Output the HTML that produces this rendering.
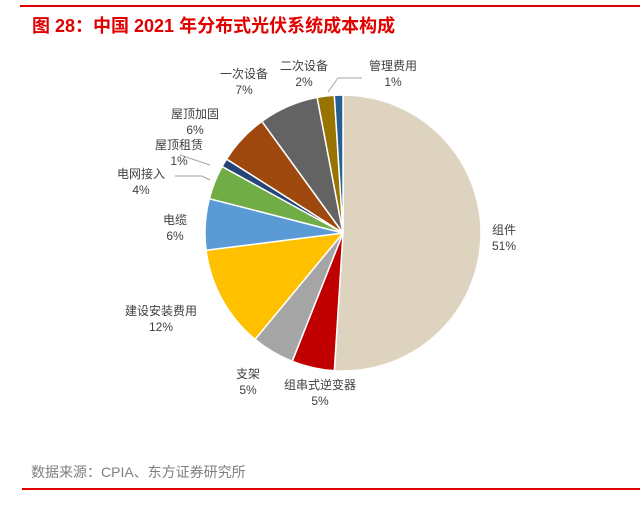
<!DOCTYPE html>
<html><head><meta charset="utf-8"><style>
body{margin:0;background:#fff;width:640px;height:508px;overflow:hidden;position:relative;font-family:"Liberation Sans","Noto Sans CJK SC",sans-serif}
.t{position:absolute;left:32px;top:12px;font-size:18px;color:#e00000;white-space:nowrap;font-weight:bold}
.l{position:absolute;font-size:12px;color:#404040;text-align:center;line-height:16px;white-space:nowrap}
.src{position:absolute;left:31px;top:462px;font-size:14px;color:#7f7f7f}
</style></head><body>
<div style="position:absolute;left:20px;top:5px;width:620px;height:2px;background:#e00000"></div>
<div class="t">图 28：中国 2021 年分布式光伏系统成本构成</div>
<svg id="s" width="640" height="508" style="position:absolute;left:0;top:0"></svg>
<div class="l" style="left:492px;top:222px;text-align:left">组件<br>51%</div>
<div class="l" style="left:284px;top:377px">组串式逆变器<br>5%</div>
<div class="l" style="left:236px;top:366px">支架<br>5%</div>
<div class="l" style="left:125px;top:303px">建设安装费用<br>12%</div>
<div class="l" style="left:163px;top:212px">电缆<br>6%</div>
<div class="l" style="left:117px;top:166px">电网接入<br>4%</div>
<div class="l" style="left:155px;top:137px">屋顶租赁<br>1%</div>
<div class="l" style="left:171px;top:106px">屋顶加固<br>6%</div>
<div class="l" style="left:220px;top:66px">一次设备<br>7%</div>
<div class="l" style="left:280px;top:58px">二次设备<br>2%</div>
<div class="l" style="left:369px;top:58px">管理费用<br>1%</div>
<div class="src">数据来源：CPIA、东方证券研究所</div>
<div style="position:absolute;left:22px;top:488px;width:618px;height:2px;background:#e00000"></div>
<script>
var d=[[51,"#DDD3BE"],[5,"#C00000"],[5,"#A5A5A5"],[12,"#FFC000"],[6,"#5B9BD5"],[4,"#70AD47"],[1,"#264478"],[6,"#9E480E"],[7,"#636363"],[2,"#997300"],[1,"#255E91"]];
var cx=343,cy=233,r=138,a=0,h="";
d.forEach(function(e){var b=a+e[0]/100*2*Math.PI;
var x1=cx+r*Math.sin(a),y1=cy-r*Math.cos(a),x2=cx+r*Math.sin(b),y2=cy-r*Math.cos(b);
h+='<path d="M'+cx+','+cy+'L'+x1+','+y1+'A'+r+','+r+' 0 '+(b-a>Math.PI?1:0)+' 1 '+x2+','+y2+'Z" fill="'+e[1]+'" stroke="#fff" stroke-width="1.5"/>';a=b;});
h+='<polyline points="328,92 338,78 362,78" fill="none" stroke="#a6a6a6" stroke-width="1"/>';
h+='<polyline points="175,176 202,176 210,180" fill="none" stroke="#a6a6a6" stroke-width="1"/>';
h+='<polyline points="180,155 210,165" fill="none" stroke="#a6a6a6" stroke-width="1"/>';
document.getElementById("s").innerHTML=h;
</script>
</body></html>
